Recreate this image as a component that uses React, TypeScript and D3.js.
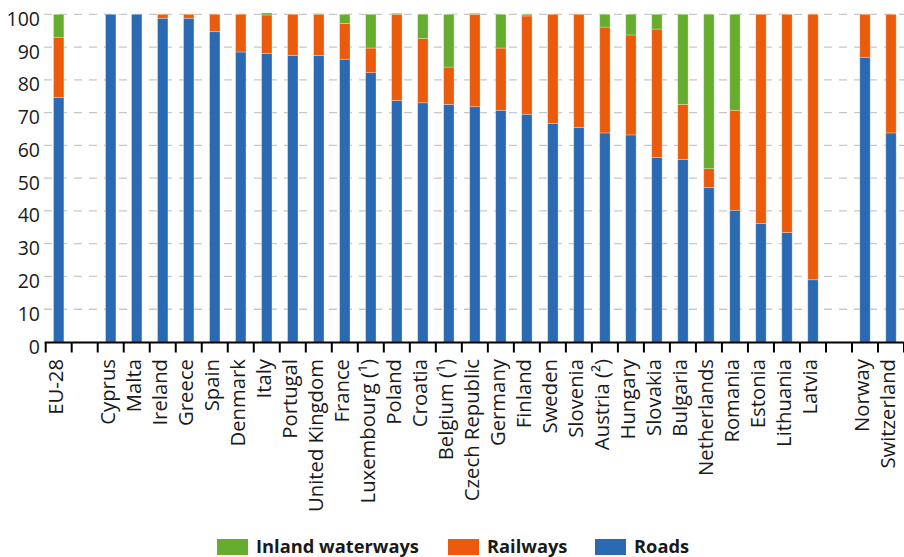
import React from "react";
import * as d3 from "d3";

const categories = [
  "EU-28", "", "Cyprus", "Malta", "Ireland", "Greece", "Spain", "Denmark", "Italy",
  "Portugal", "United Kingdom", "France", "Luxembourg (¹)", "Poland", "Croatia",
  "Belgium (¹)", "Czech Republic", "Germany", "Finland", "Sweden", "Slovenia",
  "Austria (²)", "Hungary", "Slovakia", "Bulgaria", "Netherlands", "Romania",
  "Estonia", "Lithuania", "Latvia", "", "Norway", "Switzerland",
];

const roads = [
  74.6, null, 100, 100, 98.8, 98.8, 94.7, 88.5, 88.0, 87.4, 87.4, 86.3, 82.2, 73.7,
  73.0, 72.5, 71.8, 70.7, 69.5, 66.7, 65.5, 63.8, 63.2, 56.3, 55.7, 47.1, 40.2, 36.2,
  33.4, 19.0, null, 86.9, 63.8,
];

const railways = [
  18.4, null, 0, 0, 1.2, 1.2, 5.3, 11.5, 11.8, 12.6, 12.6, 10.9, 7.5, 26.3, 19.6,
  11.4, 28.2, 19.0, 30.0, 33.3, 34.5, 32.3, 30.5, 39.2, 16.8, 5.8, 30.5, 63.8, 66.6,
  81.0, null, 13.1, 36.2,
];

const inlandWaterways = [
  7.0, null, 0, 0, 0, 0, 0, 0, 0.6, 0, 0.2, 2.8, 10.3, 0.3, 7.4, 16.1, 0.3, 10.3, 0.5,
  0, 0, 3.9, 6.3, 4.5, 27.5, 47.1, 29.3, 0, 0, 0, null, 0, 0,
];

const yTicks = [0, 10, 20, 30, 40, 50, 60, 70, 80, 90, 100];

const seriesNames = ["Roads", "Railways", "Inland waterways"];
const legendOrder = ["Inland waterways", "Railways", "Roads"];
const colors: Record<string, string> = {
  Roads: "#2b6ab2",
  Railways: "#eb5b0c",
  "Inland waterways": "#66ad2f",
};

const W = 904;
const H = 557;
const FONT = "'Open Sans', sans-serif";

export default function App() {
  const x = d3
    .scaleBand<number>()
    .domain(categories.map((_, i) => i))
    .range([45.7, 904])
    .paddingInner(0)
    .paddingOuter(0);
  const y = d3.scaleLinear().domain([0, 100]).range([342, 14.3]);

  const rows = categories.map((c, i) => ({
    i,
    Roads: roads[i] ?? 0,
    Railways: railways[i] ?? 0,
    "Inland waterways": inlandWaterways[i] ?? 0,
    empty: roads[i] == null,
  }));
  const stack = d3.stack<any>().keys(seriesNames)(rows);
  const barW = 10.4;

  const legendX: Record<string, number> = { "Inland waterways": 217, Railways: 448, Roads: 595 };

  return (
    <svg
      width={W}
      height={H}
      style={{ position: "absolute", left: 0, top: 0, background: "#fff" }}
    >
      {/* gridlines */}
      {yTicks.filter((t) => t > 0).map((t) => (
        <line
          key={t}
          x1={44}
          x2={W}
          y1={y(t)}
          y2={y(t)}
          stroke="#c8c8c8"
          strokeWidth={1.3}
          strokeDasharray="8,7"
        />
      ))}
      {/* bars */}
      {stack.map((s) => (
        <g key={s.key} fill={colors[s.key]}>
          {s.map((d, i) =>
            rows[i].empty || d[1] - d[0] <= 0 ? null : (
              <rect
                key={i}
                x={(x(i) as number) + x.bandwidth() / 2 - barW / 2}
                width={barW}
                y={y(d[1])}
                height={y(d[0]) - y(d[1])}
                stroke="rgba(255,255,255,0.35)"
                strokeWidth={0.8}
              />
            )
          )}
        </g>
      ))}
      {/* x axis */}
      <line x1={44.7} x2={W} y1={342.5} y2={342.5} stroke="#000" strokeWidth={2.2} />
      {d3.range(categories.length + 1).map((k) => {
        const xx = 45.7 + k * x.step();
        return (
          <line key={k} x1={xx} x2={xx} y1={342} y2={352.5} stroke="#000" strokeWidth={2} />
        );
      })}
      {/* y labels */}
      {yTicks.map((t) => (
        <text
          key={t}
          x={40}
          y={y(t) + 11.5}
          textAnchor="end"
          fontFamily={FONT}
          fontSize={19.5}
          fill="#1a1a1a"
        >
          {t}
        </text>
      ))}
      {/* x labels */}
      {categories.map((c, i) =>
        c ? (
          <text
            key={i}
            transform={`translate(${(x(i) as number) + x.bandwidth() / 2 + 4.5},359) rotate(-90)`}
            textAnchor="end"
            fontFamily={FONT}
            fontSize={20.3}
            fill="#1a1a1a"
          >
            {c}
          </text>
        ) : null
      )}
      {/* legend */}
      {legendOrder.map((k) => (
        <g key={k}>
          <rect x={legendX[k]} y={539} width={31} height={16} fill={colors[k]} />
          <text
            x={legendX[k] + 39}
            y={552.5}
            fontFamily={FONT}
            fontWeight={700}
            fontSize={18.3}
            fill="#1a1a1a"
          >
            {k}
          </text>
        </g>
      ))}
    </svg>
  );
}
